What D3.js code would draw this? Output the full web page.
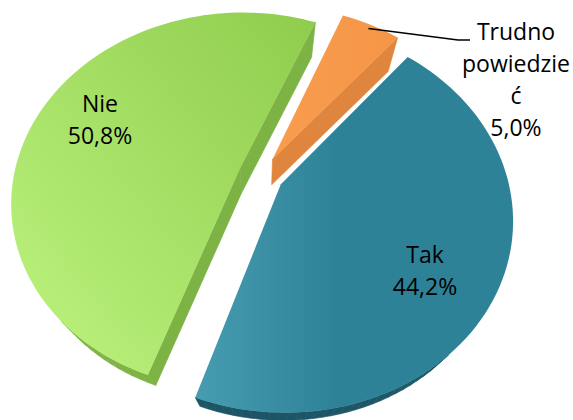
<!DOCTYPE html>
<html><head><meta charset="utf-8">
<script src="https://cdn.jsdelivr.net/npm/d3@7"></script>
<style>html,body{margin:0;padding:0;background:#fff;overflow:hidden} svg{display:block}</style>
</head><body><svg id="chart" width="573" height="420"></svg>
<script>
// ---- data ----
const categories = ["Tak", "Nie", "Trudno powiedzieć"];
const values = [44.2, 50.8, 5.0];
const valueLabels = ["44,2%", "50,8%", "5,0%"];
const nameLines = [["Tak"], ["Nie"], ["Trudno", "powiedzie", "ć"]];

// ---- styling / layout ----
const topLight = ["#469cb1", "#bdf47f", "#f89c4e"];
const topDark  = ["#2e8298", "#8fcc4d", "#f59646"];
const wallCol  = ["#1b5566", "#7db244", "#df853d"];
const labelPos = [[425, 263], [100, 112], [516, 40]];
const lineH = 32;

const svg = d3.select("#chart");
const deg = Math.PI / 180;
const phi = 55 * deg, cosP = Math.cos(phi), sinP = Math.sin(phi);
const L = 3.3, F = 746, cx = 261, cy = 175, explode = 0.1;
const vanish = [261, 522], ext = 0.07;   // extrusion toward vanishing point
const startAngle = 40 * deg;

function proj(u, v) {
  const dy = v - L * cosP, dz = -L * sinP;
  const yc = -dy * sinP + dz * cosP;
  const zc = -dy * cosP - dz * sinP;
  return [cx + F * u / zc, cy - F * yc / zc];
}
const down = q => [q[0] + (vanish[0] - q[0]) * ext, q[1] + (vanish[1] - q[1]) * ext];
function area(poly) {
  let s = 0;
  for (let k = 0; k < poly.length; k++) {
    const p = poly[k], q = poly[(k + 1) % poly.length];
    s += p[0] * q[1] - q[0] * p[1];
  }
  return s / 2;
}

const pie = d3.pie().sort(null).value(d => d).startAngle(startAngle).endAngle(startAngle + 2 * Math.PI);
const arcs = pie(values);

const defs = svg.append("defs");
arcs.forEach((a, i) => {
  const g = defs.append("linearGradient").attr("id", "g" + i);
  if (i === 1) g.attr("x1", 0).attr("y1", 1).attr("x2", 1).attr("y2", 0);
  else g.attr("x1", 0).attr("y1", 0.5).attr("x2", 1).attr("y2", 0.5);
  g.append("stop").attr("offset", "0%").attr("stop-color", topLight[i]);
  g.append("stop").attr("offset", i === 0 ? "45%" : "100%").attr("stop-color", topDark[i]);
});

const line = d3.line();
const slices = arcs.map((a, i) => {
  const mid = (a.startAngle + a.endAngle) / 2;
  const o = [explode * Math.sin(mid), -explode * Math.cos(mid)];
  const n = Math.max(8, Math.ceil((a.endAngle - a.startAngle) / (2 * deg)));
  const ang = d3.range(n + 1).map(k => a.startAngle + (a.endAngle - a.startAngle) * k / n);
  const rim = ang.map(t => proj(o[0] + Math.sin(t), o[1] - Math.cos(t)));
  const apex = proj(o[0], o[1]);
  return { i, a, mid, o, ang, rim, apex, depth: o[1] - 0.6 * Math.cos(mid) };
});
slices.sort((p, q) => p.depth - q.depth);

slices.forEach(s => {
  const g = svg.append("g");
  const i = s.i;
  const quad = (p1, p2) => [p1, p2, down(p2), down(p1)];
  const cand = [quad(s.apex, s.rim[0]), quad(s.rim[s.rim.length - 1], s.apex)];
  for (let k = 0; k < s.rim.length - 1; k++) cand.push(quad(s.rim[k], s.rim[k + 1]));
  const walls = cand.filter(q => area(q) < 0);
  g.selectAll("path.wall").data(walls).join("path").attr("class", "wall")
    .attr("d", d => line(d) + "Z").attr("fill", wallCol[i]).attr("stroke", wallCol[i]).attr("stroke-width", 0.6);
  const top = [s.apex].concat(s.rim);
  g.append("path").attr("d", line(top) + "Z").attr("fill", "url(#g" + i + ")");
});

// leader line for the small slice
const small = slices.find(s => s.i === 2);
const lp = proj(small.o[0] + 0.97 * Math.sin(small.mid), small.o[1] - 0.97 * Math.cos(small.mid));
svg.append("path").attr("d", line([lp, [458, 40], [470, 40]])).attr("fill", "none").attr("stroke", "#000").attr("stroke-width", 1.3);

// labels
arcs.forEach((a, i) => {
  const lines = nameLines[i].concat([valueLabels[i]]);
  const t = svg.append("text").attr("font-family", "'Open Sans', sans-serif").attr("font-size", 23)
    .attr("text-anchor", "middle").attr("fill", "#000");
  lines.forEach((s, k) => t.append("tspan").attr("x", labelPos[i][0]).attr("y", labelPos[i][1] + k * lineH).text(s));
});
</script></body></html>
